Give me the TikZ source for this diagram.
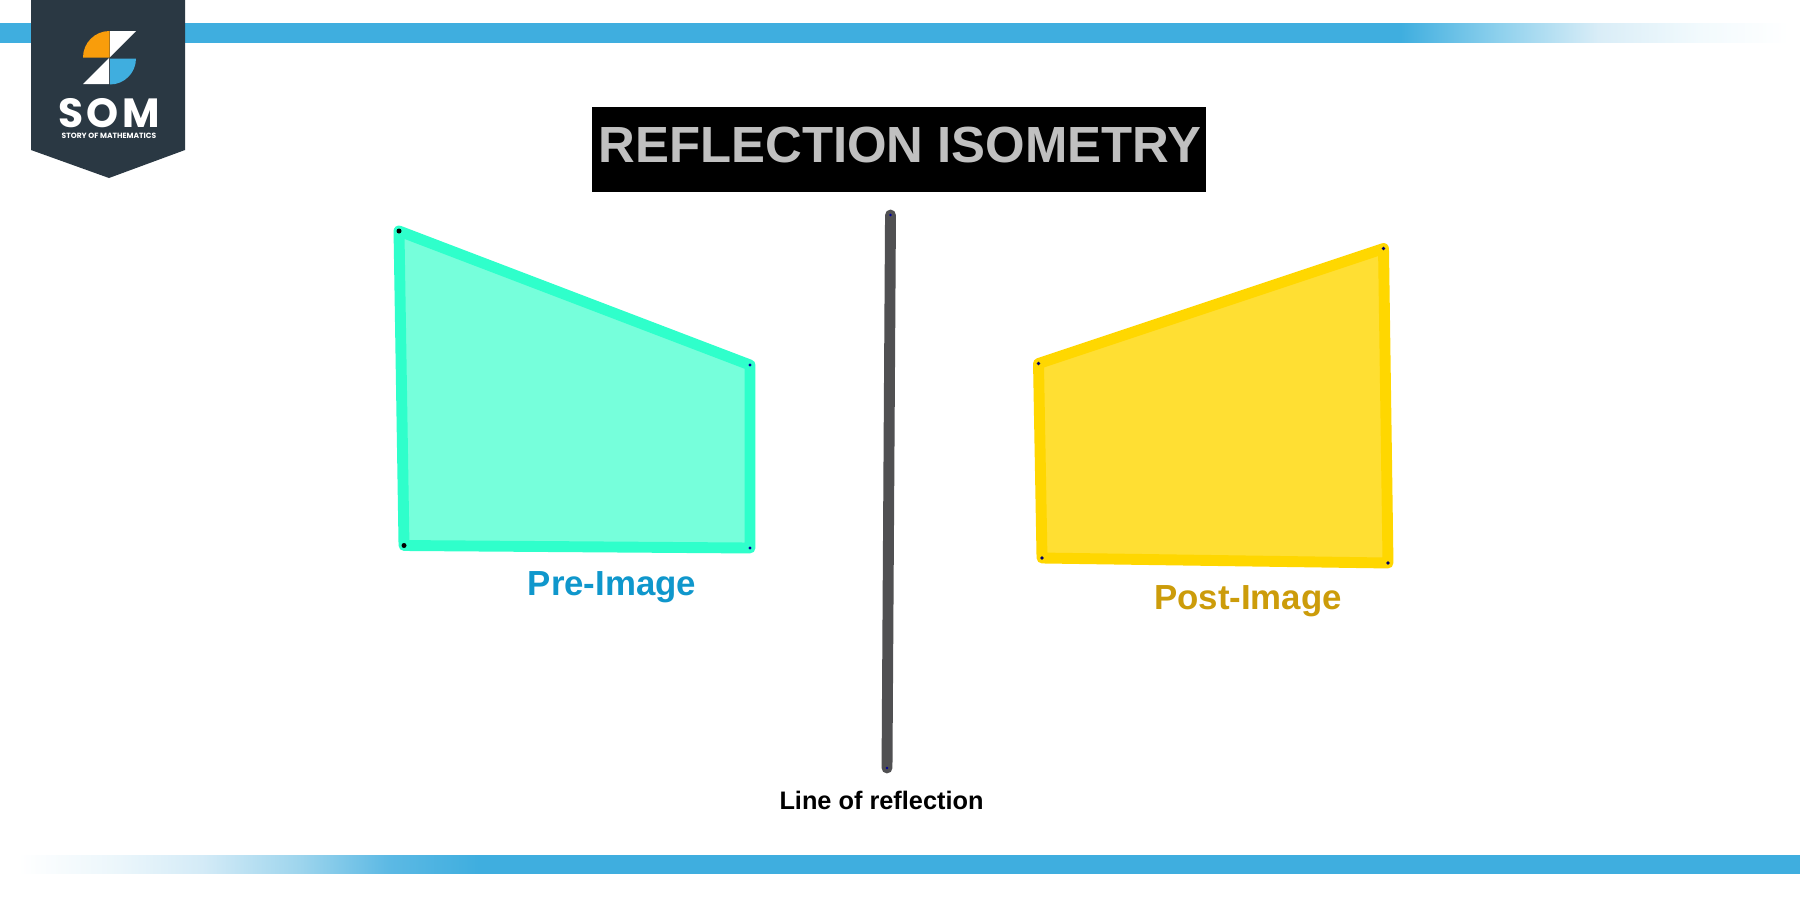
\documentclass[tikz,border=0pt]{standalone}
\usepackage{fontspec}
\setmainfont{Liberation Sans}
\newfontfamily\somfont[LetterSpace=9]{Poppins}
\newfontfamily\storyfont{Poppins}
\usetikzlibrary{positioning}
\definecolor{barblue}{HTML}{3FAEDF}
\definecolor{fadeA}{HTML}{8FD1ED}
\definecolor{fadeB}{HTML}{D9EDF7}
\definecolor{fadeC}{HTML}{F2FAFD}
\definecolor{fadeD}{HTML}{EBF6FB}
\definecolor{fadeE}{HTML}{D4EBF7}
\definecolor{fadeF}{HTML}{9ED5ED}
\definecolor{fadeG}{HTML}{5CB9E4}
\definecolor{shield}{HTML}{2A3843}
\definecolor{somorange}{HTML}{F99D0B}
\definecolor{greenedge}{HTML}{2FFFCB}
\definecolor{greenfill}{HTML}{76FFDB}
\definecolor{yellowedge}{HTML}{FFD700}
\definecolor{yellowfill}{HTML}{FFDF33}
\definecolor{mirrorgrey}{HTML}{505052}
\definecolor{preblue}{HTML}{0F97CC}
\definecolor{postgold}{HTML}{CC9C0A}
\definecolor{titlegrey}{HTML}{C0C0C0}
\pgfdeclarehorizontalshading{topfade}{100bp}{color(0bp)=(barblue); color(63.9bp)=(barblue); color(66.67bp)=(fadeA); color(69.4bp)=(fadeB); color(72.2bp)=(fadeC); color(74.7bp)=(white); color(100bp)=(white)}
\pgfdeclarehorizontalshading{bottomfade}{100bp}{color(0bp)=(white); color(25.5bp)=(white); color(28.3bp)=(fadeD); color(30.6bp)=(fadeE); color(33.3bp)=(fadeF); color(35.8bp)=(fadeG); color(38.3bp)=(barblue); color(100bp)=(barblue)}
\tikzset{
	shapeedge/.style={line width=3.1pt,line join=round},
	textlabel/.style={inner sep=0pt,anchor=center},
	vertexdot/.style={fill=#1,draw=none}
}
\begin{document}
\begin{tikzpicture}[x=0.01cm,y=-0.01cm]
		\useasboundingbox (0,0) rectangle (1800,900);
		\fill [white](0,0) rectangle (1800,900);
		
		\shade [shading=topfade](0,23) rectangle (1800,42);
		\shade [shading=bottomfade](0,855) rectangle (1800,873);
		
		\fill [shield](31,0)--(185,0)--(185,150)--(109,178)--(31,150)--cycle;
		\fill [somorange](83,57.5) arc (180:270:26.5)--(109.5,57.5)--cycle;
		\fill [white](110,31)--(136,31)--(110,57)--cycle;
		\fill [white](109,58)--(109,84)--(83,84)--cycle;
		\fill [barblue](110,58.5)--(136,58.5) arc (0:90:26)--cycle;
		\node [textlabel] (som) at (109,113) {\somfont\fontsize{11.6pt}{12pt}\selectfont\bfseries\textcolor{white}{SOM}};
		\node [textlabel] (story) at (109,135.5) {\storyfont\fontsize{2.15pt}{3pt}\selectfont\bfseries\textcolor{white}{STORY OF MATHEMATICS}};
		
		\fill [black](592,107) rectangle (1206,192);
		\node [textlabel,text=titlegrey,font=\bfseries\fontsize{14.46pt}{16pt}\selectfont] (title) at (900,145) {REFLECTION ISOMETRY};
		
		\draw [shapeedge,draw=greenedge,fill=greenfill](399,231)--(750,365)--(750,548)--(404,545.5)--cycle;
		\fill [vertexdot=black](399,231) circle (2.5);
		\fill [vertexdot=black](404,545.5) circle (2.5);
		\fill [vertexdot=blue!60!black](750,365) circle (1.6);
		\fill [vertexdot=blue!60!black](750,548) circle (1.6);
		
		\draw [shapeedge,draw=yellowedge,fill=yellowfill](1383.5,248.5)--(1388,563)--(1042,558)--(1038.5,363.5)--cycle;
		\fill [vertexdot=blue!40!black](1383.5,248.5) circle (1.8);
		\fill [vertexdot=blue!40!black](1388,563) circle (1.8);
		\fill [vertexdot=blue!40!black](1042,558) circle (1.8);
		\fill [vertexdot=blue!40!black](1038.5,363.5) circle (1.8);
		
		\draw [mirrorgrey,line width=3.1pt,line cap=round](890.5,215)--(887,768);
		\fill [vertexdot=blue!60!black](890.5,215) circle (1.4);
		\fill [vertexdot=blue!60!black](887,768) circle (1.4);
		
		\node [textlabel,text=preblue,font=\bfseries\fontsize{9.9pt}{11pt}\selectfont] (pre) at (612,587.5) {Pre-Image};
		\node [textlabel,text=postgold,font=\bfseries\fontsize{9.9pt}{11pt}\selectfont] (post) at (1248,601.5) {Post-Image};
		\node [textlabel,font=\bfseries\fontsize{7.2pt}{9pt}\selectfont] (mirror) at (881.5,800) {Line of reflection};
	
	\end{tikzpicture}
\end{document}
